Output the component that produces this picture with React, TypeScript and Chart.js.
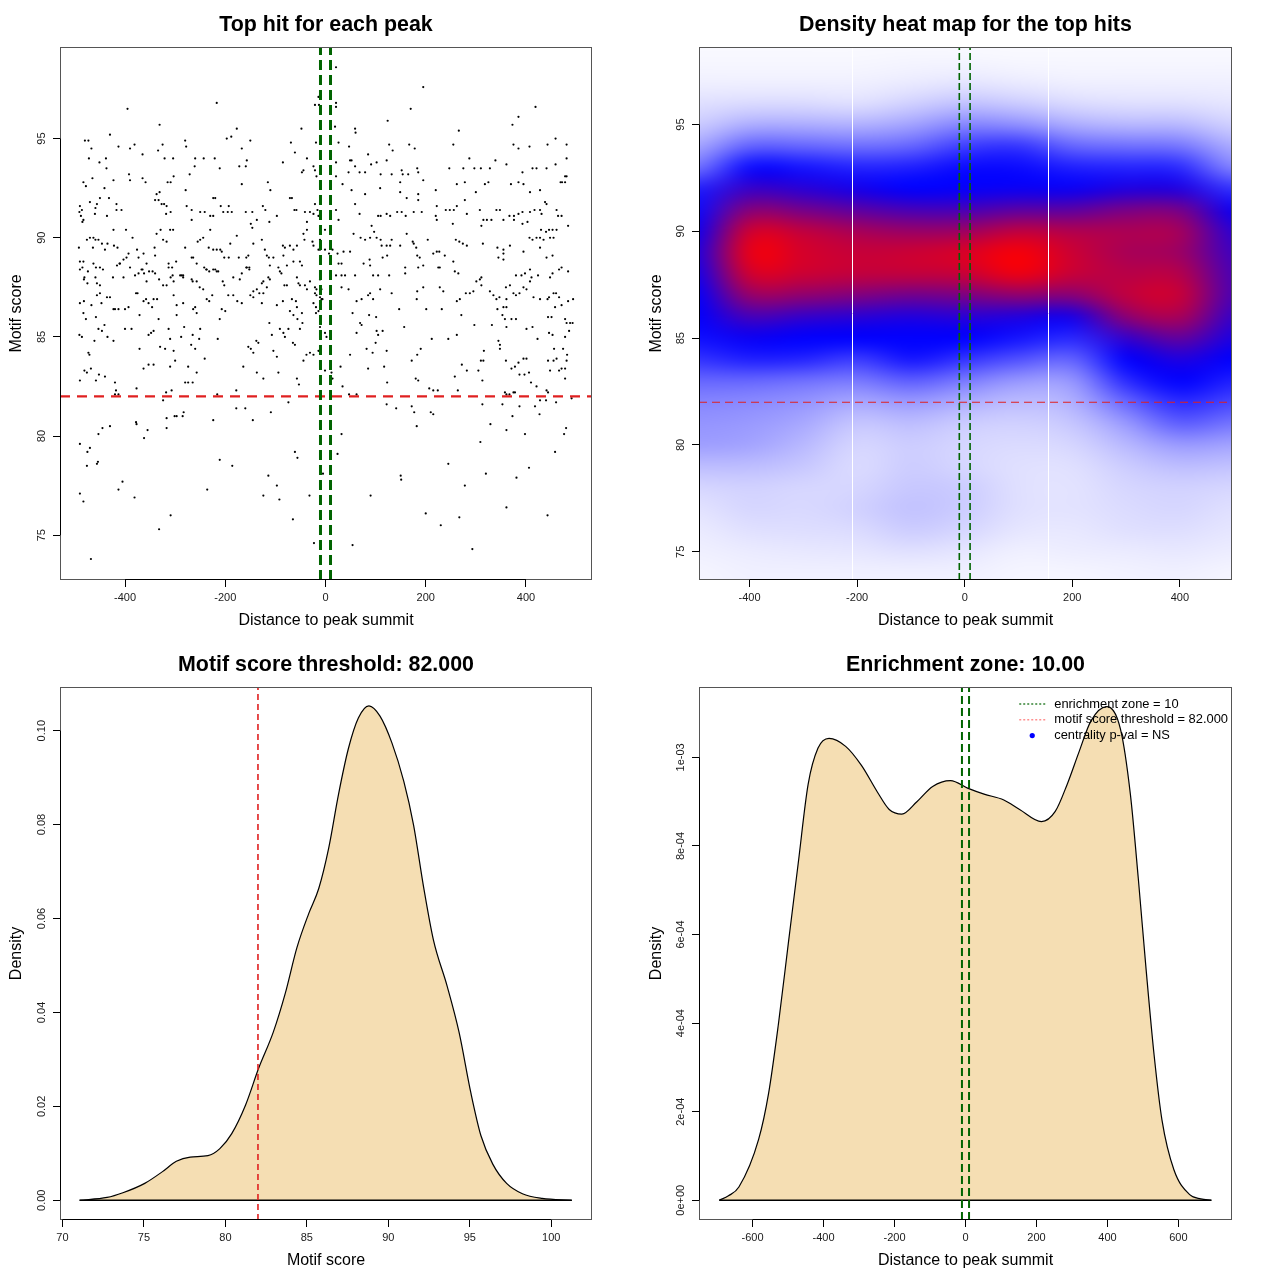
import React, { useEffect, useRef } from "react";
import { Chart, registerables } from "chart.js";

Chart.register(...registerables);

const FONT = '"Liberation Sans", Arial, Helvetica, sans-serif';
Chart.defaults.font.family = FONT;

// ---------------- constants ----------------
const ENRICHMENT_ZONE = 10;
const SCORE_THRESHOLD = 82;

// ---------------- tick arrays ----------------
const distTicks = [-400, -200, 0, 200, 400];
const distTickLabels = ["-400", "-200", "0", "200", "400"];
const scoreTicks = [75, 80, 85, 90, 95];
const scoreTickLabels = ["75", "80", "85", "90", "95"];
const densScoreXTicks = [70, 75, 80, 85, 90, 95, 100];
const densScoreXTickLabels = ["70", "75", "80", "85", "90", "95", "100"];
const densScoreYTicks = [0, 0.02, 0.04, 0.06, 0.08, 0.1];
const densScoreYTickLabels = ["0.00", "0.02", "0.04", "0.06", "0.08", "0.10"];
const densDistXTicks = [-600, -400, -200, 0, 200, 400, 600];
const densDistXTickLabels = ["-600", "-400", "-200", "0", "200", "400", "600"];
const densDistYTicks = [0, 0.0002, 0.0004, 0.0006, 0.0008, 0.001];
const densDistYTickLabels = ["0e+00", "2e-04", "4e-04", "6e-04", "8e-04", "1e-03"];

// ---------------- axis ranges ----------------
const hitsXRange = [-529.7, 531.7];
const hitsYRange = [72.74, 99.62];
const heatXRange = [-494, 497];
const heatYRange = [73.68, 98.63];
const densScoreXRange = [69.85, 102.5];
const densScoreYRange = [-0.0042, 0.1093];
const densDistXRange = [-751, 751];
const densDistYRange = [-0.0000446, 0.001159];

// ---------------- top hits (distance, motif score) ----------------
const topHits: [number, number][] = [
  [-395,96.5],[-217,96.8],[-21,96.7],[-13,96.7],[-14,97.1],
  [-331,95.7],[-430,95.2],[-480,94.9],[-473,94.9],[-467,94.5],[-413,94.6],[-390,94.5],[-381,94.7],[-365,94.2],[-334,94.4],[-325,94.7],[-280,94.9],[-278,94.6],[-197,95.0],[-188,95.1],[-177,95.5],[-150,94.9],[-167,94.5],[-69,94.8],[-61,94.3],[-48,95.5],[-19,94.8],
  [-472,94.0],[-451,93.8],[-438,94.0],[-437,93.5],[-392,93.2],[-390,92.9],[-423,92.9],[-483,92.8],[-478,92.6],[-465,93.0],[-441,92.5],[-365,93.0],[-359,92.8],[-331,92.3],[-321,94.0],[-304,94.0],[-315,92.8],[-309,92.8],[-303,93.1],[-279,92.4],[-271,93.2],[-261,93.6],[-260,94.0],[-243,94.0],[-221,94.0],[-211,93.5],[-172,93.6],[-159,93.6],[-157,93.9],[-167,92.7],[-115,92.8],[-110,92.4],[-85,93.8],[-47,93.3],[-44,93.4],[-37,94.0],[-24,93.6],[-21,93.4],[-18,93.1],
  [-490,91.6],[-486,91.4],[-488,91.1],[-491,91.3],[-483,90.9],[-485,90.8],[-470,91.8],[-456,91.7],[-459,91.5],[-460,91.2],[-450,92.0],[-436,91.1],[-432,92.0],[-417,91.7],[-417,91.4],[-407,91.4],[-337,92.2],[-333,91.9],[-340,91.9],[-327,91.7],[-322,91.7],[-317,91.6],[-318,91.2],[-309,91.3],[-277,91.6],[-267,91.4],[-267,90.9],[-250,91.3],[-241,91.3],[-224,92.0],[-220,92.0],[-230,91.1],[-224,91.1],[-209,91.6],[-204,91.3],[-195,91.3],[-187,91.3],[-193,91.6],[-159,91.3],[-146,91.3],[-125,91.6],[-120,91.4],[-137,90.9],[-112,90.8],[-97,91.1],[-71,92.0],[-67,92.0],[-62,91.4],[-58,91.4],[-41,91.3],[-37,90.8],[-31,91.3],[-21,91.7],[-14,91.1],
  [-492,89.5],[-490,88.8],[-483,88.8],[-476,89.9],[-470,90.0],[-463,90.0],[-464,89.5],[-459,89.9],[-453,89.9],[-446,89.7],[-435,89.7],[-440,89.4],[-422,89.6],[-415,89.5],[-423,90.4],[-410,88.7],[-403,88.9],[-397,89.0],[-393,89.2],[-398,90.4],[-385,90.0],[-376,89.4],[-373,89.0],[-363,89.2],[-365,88.4],[-357,88.7],[-352,88.3],[-345,88.3],[-340,88.2],[-341,89.5],[-340,89.1],[-337,90.2],[-329,90.4],[-324,89.9],[-317,89.8],[-310,90.4],[-304,90.4],[-313,88.7],[-313,88.5],[-306,88.5],[-298,88.8],[-287,88.1],[-284,88.1],[-280,89.5],[-267,89.0],[-264,89.0],[-257,88.7],[-255,89.8],[-250,89.9],[-244,90.0],[-242,88.5],[-238,88.4],[-233,89.5],[-230,90.4],[-224,89.4],[-217,89.4],[-224,88.4],[-214,88.3],[-210,89.4],[-207,89.3],[-202,89.0],[-193,89.0],[-190,89.7],[-177,90.1],[-173,89.0],[-158,89.0],[-154,89.1],[-152,88.5],[-157,88.5],[-149,90.7],[-146,90.5],[-144,89.7],[-127,89.9],[-121,89.4],[-117,89.1],[-113,89.0],[-111,88.6],[-104,89.0],[-94,88.5],[-85,89.6],[-81,89.5],[-84,89.1],[-77,88.6],[-71,89.6],[-64,89.4],[-57,89.6],[-51,88.8],[-44,90.2],[-42,89.9],[-37,90.4],[-26,89.8],[-24,89.6],[-14,89.4],[-11,89.4],[-11,89.9],[-1,90.4],
  [-490,88.4],[-481,88.0],[-482,87.9],[-485,88.5],[-475,87.7],[-474,88.3],[-463,88.7],[-458,88.5],[-459,88.0],[-450,88.5],[-456,87.7],[-450,87.6],[-444,88.4],[-424,88.0],[-416,88.6],[-411,88.7],[-403,88.0],[-390,88.5],[-380,88.1],[-373,88.2],[-367,88.4],[-362,88.2],[-357,87.8],[-332,87.9],[-324,87.6],[-317,87.6],[-309,88.0],[-305,88.1],[-290,88.1],[-284,88.0],[-303,87.8],[-267,87.9],[-265,87.8],[-257,87.8],[-251,87.5],[-244,87.4],[-237,88.4],[-232,88.3],[-220,88.4],[-217,88.3],[-205,87.8],[-202,87.6],[-184,88.0],[-171,87.9],[-167,88.2],[-158,88.5],[-152,88.4],[-144,87.3],[-137,87.4],[-124,87.8],[-127,87.7],[-117,87.5],[-114,88.0],[-111,87.9],[-91,88.3],[-88,88.2],[-82,87.6],[-77,87.6],[-64,88.8],[-57,88.0],[-54,87.7],[-51,87.6],[-47,88.6],[-41,87.6],[-37,87.4],[-31,87.8],[-21,87.2],[-18,87.1],[-8,86.9],[-6,86.9],
  [-490,86.7],[-482,86.8],[-478,85.9],[-467,86.6],[-456,87.1],[-450,87.2],[-436,87.0],[-430,87.0],[-447,86.7],[-423,86.4],[-420,86.4],[-413,86.4],[-400,86.4],[-393,86.5],[-378,87.2],[-375,87.2],[-363,86.8],[-358,86.9],[-353,86.7],[-346,86.5],[-343,86.9],[-336,86.9],[-303,87.1],[-297,86.6],[-284,86.7],[-264,86.4],[-260,86.5],[-237,86.9],[-232,86.8],[-226,87.1],[-207,86.4],[-200,86.3],[-194,87.1],[-184,87.1],[-176,86.8],[-167,86.7],[-150,87.1],[-144,87.0],[-132,87.2],[-124,87.2],[-127,86.7],[-97,86.6],[-85,86.8],[-71,86.3],[-67,86.9],[-59,86.8],[-64,86.1],[-56,85.9],[-57,86.5],[-47,86.2],[-24,86.7],[-19,86.5],[-14,86.3],[-11,87.0],
  [-483,86.2],[-458,86.0],[-453,85.4],[-446,85.3],[-441,85.6],[-435,85.0],[-491,85.1],[-486,85.0],[-461,84.8],[-423,84.8],[-400,85.4],[-387,85.4],[-371,86.1],[-371,84.4],[-353,85.1],[-348,85.2],[-343,85.3],[-333,85.9],[-330,84.5],[-320,84.4],[-313,85.4],[-310,84.9],[-303,84.3],[-297,86.1],[-288,85.0],[-282,85.5],[-265,85.1],[-268,84.6],[-260,84.4],[-257,86.2],[-250,85.4],[-252,84.9],[-241,83.9],[-215,84.9],[-211,85.9],[-164,83.5],[-154,84.5],[-149,84.4],[-144,84.2],[-138,84.8],[-134,84.7],[-112,85.7],[-107,85.1],[-104,84.3],[-97,84.0],[-91,85.4],[-84,85.2],[-81,85.0],[-74,85.4],[-65,84.7],[-61,84.6],[-51,85.4],[-46,85.7],[-44,83.8],[-38,84.1],[-31,84.2],[-19,86.2],[-11,85.5],[-14,84.3],
  [-490,82.8],[-481,83.3],[-476,83.2],[-473,84.2],[-471,84.1],[-468,83.4],[-458,82.8],[-452,83.1],[-440,83.0],[-420,82.7],[-418,82.3],[-420,82.1],[-413,82.1],[-377,82.4],[-363,83.4],[-353,83.6],[-343,83.6],[-324,81.8],[-318,82.2],[-310,83.5],[-307,82.3],[-300,83.8],[-280,82.7],[-274,82.7],[-274,83.5],[-265,82.7],[-257,83.2],[-216,82.1],[-178,82.3],[-137,83.2],[-124,82.9],[-94,83.2],[-74,81.7],[-57,82.9],[-53,82.6],[-24,84.1],[-1,83.3],
  [-317,80.9],[-317,80.4],[-301,81.0],[-297,81.0],[-285,81.0],[-283,81.2],[-224,80.8],[-178,81.4],[-160,81.4],[-145,80.8],[-109,81.2],[-378,80.7],[-377,80.6],[-355,80.3],[-362,79.9],[-445,80.4],[-453,80.1],[-430,80.5],[-490,79.6],[-470,79.4],[-475,79.2],[-454,78.7],[-456,78.6],[-476,78.5],[-211,78.8],[-186,78.5],[-61,79.2],[-56,78.9],[-5,78.1],
  [-114,78.0],[-97,77.5],[-92,76.8],[-124,77.0],[-32,77.0],[-65,75.8],[-23,74.6],[-413,77.3],[-405,77.7],[-490,77.1],[-483,76.7],[-381,76.9],[-309,76.0],[-332,75.3],[-236,77.3],[-468,73.8],
  [21,98.6],[195,97.6],[170,96.5],[419,96.6],[385,96.1],[21,96.8],[21,96.6],[124,95.9],[266,95.4],[373,95.7],[59,95.5],[60,95.3],[19,95.6],
  [26,94.8],[47,94.6],[127,94.7],[134,94.4],[167,94.7],[178,94.5],[255,94.7],[375,94.7],[385,94.5],[407,94.6],[443,94.7],[459,95.0],[481,94.7],[49,93.9],[52,93.9],[85,94.2],[91,93.7],[102,93.8],[122,93.9],[59,93.6],[46,93.3],[79,93.3],[68,93.3],[110,93.2],[132,93.2],[152,93.4],[154,93.2],[165,93.2],[183,93.5],[185,93.3],[195,92.9],[247,93.5],[275,93.5],[287,94.0],[297,93.5],[310,93.5],[328,93.5],[339,93.9],[361,93.7],[393,93.3],[413,93.5],[421,93.5],[441,93.5],[459,93.7],[481,94.0],[481,93.1],[472,92.8],
  [21,93.8],[21,93.1],[34,92.7],[52,92.4],[79,92.2],[109,92.5],[149,92.8],[149,92.3],[162,92.0],[185,91.9],[185,92.2],[220,92.4],[262,92.7],[278,92.8],[278,91.9],[300,92.3],[318,92.7],[325,92.8],[370,92.7],[385,92.8],[395,92.7],[408,92.3],[428,92.4],[469,92.8],[478,92.8],[478,93.1],
  [-24,91.2],[-16,91.4],[21,91.4],[26,90.9],[59,91.7],[68,91.2],[92,90.6],[105,91.1],[110,91.1],[122,91.2],[129,91.1],[143,91.3],[152,91.3],[160,91.1],[176,91.3],[192,91.3],[222,91.6],[220,91.1],[222,90.9],[240,91.4],[248,91.4],[256,91.4],[262,91.6],[254,90.7],[282,91.2],[308,91.4],[311,90.6],[315,90.9],[322,90.9],[331,90.9],[341,91.4],[348,91.4],[355,90.9],[367,91.1],[376,91.1],[385,91.2],[393,91.3],[376,90.9],[393,90.7],[403,90.8],[408,91.3],[417,91.4],[428,91.4],[431,91.2],[438,91.8],[441,91.7],[461,91.4],[464,91.1],[471,91.1],[484,90.6],[430,90.4],[440,90.3],[446,90.4],[453,90.4],[461,90.4],
  [-1,89.4],[7,89.2],[14,89.4],[24,89.2],[36,89.3],[49,89.3],[56,90.2],[70,90.0],[79,89.9],[89,90.0],[97,90.3],[102,90.0],[110,89.9],[112,89.6],[122,89.6],[129,89.6],[132,89.9],[149,89.6],[174,89.8],[176,89.7],[181,89.5],[162,90.2],[204,89.9],[215,89.2],[222,89.3],[227,89.3],[238,89.1],[260,89.9],[267,89.8],[274,89.7],[282,89.6],[314,89.7],[343,89.5],[355,89.4],[368,89.6],[395,89.3],[407,90.0],[413,89.9],[421,90.0],[428,90.0],[435,89.9],[448,90.0],[455,90.0],[428,89.5],[441,89.0],[453,89.1],[466,88.4],[471,88.5],[484,88.3],
  [26,88.7],[32,88.7],[21,88.1],[32,88.1],[39,88.1],[59,88.1],[76,88.7],[88,88.9],[89,88.6],[95,88.1],[105,88.1],[114,89.0],[123,89.1],[127,88.1],[159,88.5],[159,88.2],[183,89.1],[188,89.0],[185,88.5],[195,88.6],[225,88.5],[228,88.5],[255,88.8],[258,88.3],[265,88.2],[311,88.0],[345,89.0],[355,88.9],[355,89.2],[380,88.1],[391,88.1],[398,88.2],[408,88.4],[411,88.0],[424,88.1],[448,88.0],[453,88.2],[-21,87.5],[-18,87.4],[-11,87.9],[-8,87.4],
  [32,87.5],[46,87.4],[62,86.8],[72,86.9],[85,87.1],[89,87.2],[95,86.9],[109,87.4],[132,87.2],[182,86.9],[183,87.3],[195,87.5],[228,87.5],[235,87.3],[262,86.8],[268,86.9],[280,87.2],[288,87.2],[295,87.3],[301,87.8],[308,87.9],[311,87.6],[328,87.3],[335,87.1],[341,86.9],[347,87.0],[355,86.5],[361,86.5],[361,86.9],[360,87.5],[368,87.6],[375,87.2],[380,87.1],[387,87.2],[395,87.5],[401,87.4],[408,87.8],[415,87.0],[428,86.9],[443,86.9],[446,87.0],[455,87.2],[460,87.2],[466,87.0],[458,86.5],[471,86.6],[484,86.8],[494,86.9],[232,86.4],
  [54,86.2],[87,86.1],[101,86.0],[147,86.4],[201,86.4],[271,86.1],[297,85.6],[332,85.6],[343,86.4],[353,86.1],[358,85.9],[361,85.5],[371,85.9],[380,85.9],[401,85.4],[413,85.5],[423,84.9],[444,86.0],[451,86.0],[446,85.2],[453,85.1],[478,85.9],[481,85.7],[488,85.7],[493,85.7],[486,85.3],[478,85.0],[62,85.2],[69,85.7],[72,85.6],[102,85.3],[105,85.1],[114,85.3],[157,85.5],[100,84.7],[82,84.4],[49,84.1],[30,83.5],[-1,85.2],[2,85.0],[12,83.2],[14,82.9],[34,82.5],[47,82.1],[62,82.1],[85,83.4],[94,84.2],[117,83.5],[122,84.3],[123,82.7],[172,83.8],[183,84.1],[190,84.4],[180,82.9],[185,82.8],[212,84.9],[207,82.4],[215,82.3],[224,82.3],[245,84.9],[262,85.1],[272,83.6],[282,83.3],[258,83.0],[264,82.3],[305,83.3],[310,83.8],[315,83.8],[313,82.8],[316,84.3],[345,84.8],[348,84.6],[348,84.4],[360,83.8],[371,83.4],[378,83.5],[385,83.7],[387,83.1],[397,83.1],[406,83.2],[395,83.9],[401,83.9],[410,82.7],[421,82.5],[358,82.2],[361,82.1],[367,82.1],[375,82.2],[378,82.2],[441,82.3],[444,82.2],[444,83.8],[455,83.8],[461,83.9],[448,83.3],[466,83.3],[471,83.4],[478,83.4],[474,84.4],[481,83.8],[478,82.9],[482,84.1],[456,84.4],
  [122,81.6],[141,81.4],[172,81.5],[177,81.2],[182,80.5],[210,81.2],[215,81.1],[313,81.6],[353,81.6],[373,81.0],[387,81.5],[418,81.5],[428,81.8],[440,81.8],[427,81.1],[460,81.7],[491,81.9],[329,80.6],[361,80.3],[480,80.4],[476,80.1],[398,80.1],[309,79.7],[32,80.1],[458,79.2],[24,79.1],[245,78.6],[406,78.4],[150,78.0],[151,77.8],[320,78.1],[381,77.9],[278,77.5],[90,77.0],[361,76.4],[200,76.1],[267,75.9],[443,76.0],[230,75.5],[54,74.5],[293,74.3],
];

// ---------------- density heat map grid ----------------
// grid columns (distance) and rows (motif score); each column lists the colour level from score 99 down to 74
const heatX = [-500, -400, -300, -200, -100, 0, 100, 200, 300, 400, 500];
const heatY = [99, 98, 97, 96, 95, 94, 93, 92, 91, 90, 89, 88, 87, 86, 85, 84, 83, 82, 81, 80, 79, 78, 77, 76, 75, 74];
const heatLevels: number[][] = [
  [0.01, 0.015, 0.03, 0.06, 0.1, 0.17, 0.27, 0.44, 0.48, 0.52, 0.55, 0.53, 0.5, 0.5, 0.47, 0.4, 0.3, 0.24, 0.21, 0.19, 0.13, 0.08, 0.055, 0.04, 0.03, 0.02],
  [0.01, 0.015, 0.03, 0.07, 0.16, 0.31, 0.48, 0.61, 0.77, 0.92, 0.97, 0.92, 0.8, 0.64, 0.52, 0.44, 0.3, 0.23, 0.2, 0.18, 0.13, 0.09, 0.08, 0.06, 0.04, 0.03],
  [0.01, 0.015, 0.03, 0.07, 0.16, 0.3, 0.46, 0.58, 0.73, 0.88, 0.92, 0.9, 0.78, 0.6, 0.5, 0.43, 0.28, 0.21, 0.17, 0.14, 0.11, 0.08, 0.075, 0.065, 0.045, 0.03],
  [0.01, 0.015, 0.03, 0.06, 0.15, 0.28, 0.43, 0.54, 0.68, 0.83, 0.89, 0.88, 0.75, 0.58, 0.5, 0.38, 0.26, 0.17, 0.11, 0.08, 0.07, 0.08, 0.09, 0.07, 0.05, 0.03],
  [0.01, 0.02, 0.04, 0.09, 0.18, 0.3, 0.44, 0.5, 0.64, 0.8, 0.9, 0.88, 0.72, 0.56, 0.5, 0.46, 0.32, 0.2, 0.13, 0.1, 0.1, 0.11, 0.12, 0.1, 0.06, 0.03],
  [0.01, 0.02, 0.05, 0.12, 0.24, 0.38, 0.48, 0.51, 0.64, 0.81, 0.93, 0.89, 0.74, 0.58, 0.5, 0.4, 0.26, 0.16, 0.1, 0.08, 0.08, 0.1, 0.1, 0.08, 0.05, 0.03],
  [0.01, 0.015, 0.04, 0.1, 0.22, 0.4, 0.48, 0.52, 0.68, 0.88, 0.99, 0.97, 0.78, 0.56, 0.46, 0.34, 0.2, 0.13, 0.09, 0.07, 0.06, 0.06, 0.06, 0.05, 0.03, 0.02],
  [0.01, 0.015, 0.03, 0.07, 0.16, 0.3, 0.44, 0.52, 0.68, 0.85, 0.9, 0.89, 0.76, 0.54, 0.42, 0.3, 0.2, 0.15, 0.11, 0.08, 0.06, 0.055, 0.055, 0.045, 0.035, 0.02],
  [0.01, 0.015, 0.03, 0.06, 0.14, 0.28, 0.43, 0.56, 0.74, 0.84, 0.83, 0.86, 0.88, 0.78, 0.6, 0.5, 0.42, 0.3, 0.2, 0.14, 0.1, 0.08, 0.07, 0.06, 0.04, 0.025],
  [0.01, 0.015, 0.03, 0.06, 0.14, 0.27, 0.42, 0.56, 0.74, 0.83, 0.81, 0.86, 0.9, 0.84, 0.7, 0.56, 0.5, 0.42, 0.32, 0.2, 0.13, 0.09, 0.08, 0.065, 0.045, 0.03],
  [0.01, 0.015, 0.03, 0.05, 0.09, 0.16, 0.24, 0.4, 0.52, 0.58, 0.62, 0.64, 0.64, 0.6, 0.55, 0.5, 0.44, 0.36, 0.27, 0.18, 0.12, 0.08, 0.06, 0.05, 0.035, 0.02],
];
const heatSeams = [-210, 155];

// ---------------- motif score density ----------------
const scoreDensX = [71.05, 72.74, 73.71, 75.05, 76.14, 76.99, 77.84, 78.93, 79.66, 80.39, 81.24, 82.04, 82.94, 83.67, 84.39, 85.12, 85.73, 86.34, 86.94, 87.55, 88.16, 88.81, 89.49, 90.22, 90.95, 91.55, 92.16, 92.77, 93.61, 94.34, 95.07, 95.68, 96.41, 97.26, 98.23, 99.44, 101.26];
const scoreDensY = [0, 0.0006, 0.0016, 0.0036, 0.0061, 0.0083, 0.0092, 0.0095, 0.011, 0.0142, 0.0203, 0.0281, 0.0358, 0.044, 0.0538, 0.0611, 0.0664, 0.075, 0.0864, 0.0962, 0.1027, 0.1053, 0.1031, 0.0974, 0.0892, 0.0799, 0.0668, 0.0554, 0.0456, 0.0358, 0.0228, 0.0138, 0.0077, 0.0036, 0.0014, 0.0004, 0];

// ---------------- distance density ----------------
const distDensX = [-694, -668, -638.6, -582.8, -554.8, -527.2, -499.3, -471.4, -443.5, -415.6, -384.5, -337.7, -293.2, -248.4, -215, -179.3, -137, -92.5, -42.3, 7.6, 52.4, 108, 152.5, 214, 252.9, 286.4, 319.7, 353.3, 397.8, 436.7, 464.6, 486.9, 509.2, 531.4, 553.7, 587.3, 631.8, 663, 693];
const distDensY = [0, 0.00001, 0.00003, 0.000138, 0.000242, 0.000398, 0.00058, 0.000761, 0.000939, 0.001021, 0.001043, 0.001025, 0.000982, 0.000922, 0.0008825, 0.000872, 0.0009, 0.0009345, 0.0009476, 0.00093, 0.000917, 0.000904, 0.0008825, 0.000855, 0.000878, 0.000939, 0.001012, 0.001082, 0.0011146, 0.001064, 0.000917, 0.000727, 0.000519, 0.0003285, 0.000181, 0.000069, 0.0000127, 0.000003, 0];

const legendLabels = [
  `enrichment zone = ${ENRICHMENT_ZONE}`,
  `motif score threshold = ${SCORE_THRESHOLD.toFixed(3)}`,
  "centrality p-val = NS",
];

// ---------------- helpers ----------------
function ramp(t: number): [number, number, number] {
  const v = Math.max(0, Math.min(1, t));
  if (v <= 0.5) {
    const k = v / 0.5;
    return [255 * (1 - k), 255 * (1 - k), 255];
  }
  const k = (v - 0.5) / 0.5;
  return [255 * k, 0, 255 * (1 - k)];
}

function axis(range: number[], ticks: number[], labels: string[], isX: boolean, size: number) {
  return {
    type: "linear",
    min: range[0],
    max: range[1],
    afterBuildTicks: (s: any) => {
      s.ticks = ticks.map((v) => ({ value: v }));
    },
    afterFit: (s: any) => {
      if (isX) s.height = size;
      else s.width = size;
    },
    grid: { display: true, drawOnChartArea: false, drawTicks: true, tickLength: 7, color: "#000", lineWidth: 1 },
    border: { display: false },
    ticks: isX
      ? {
          display: true,
          autoSkip: false,
          maxRotation: 0,
          minRotation: 0,
          padding: 4,
          color: "#1a1a1a",
          font: { size: 11, family: FONT },
          callback: (v: number) => {
            const i = ticks.indexOf(v);
            return i >= 0 ? labels[i] : "";
          },
        }
      : { display: false },
  };
}

function vline(x: number, yr: number[], color: string, width: number, dash: number[]) {
  return {
    type: "line",
    data: [{ x, y: yr[0] }, { x, y: yr[1] }],
    borderColor: color,
    borderWidth: width,
    borderDash: dash,
    pointRadius: 0,
    pointHoverRadius: 0,
    fill: false,
    order: 0,
  };
}

function hline(y: number, xr: number[], color: string, width: number, dash: number[]) {
  return {
    type: "line",
    data: [{ x: xr[0], y }, { x: xr[1], y }],
    borderColor: color,
    borderWidth: width,
    borderDash: dash,
    pointRadius: 0,
    pointHoverRadius: 0,
    fill: false,
    order: 0,
  };
}

type FrameSpec = {
  title: string;
  xTitle: string;
  yTitle: string;
  xTicks: number[];
  yTicks: number[];
  yTickLabels: string[];
};

function framePlugin(o: FrameSpec) {
  return {
    id: "rframe",
    afterDraw(chart: any) {
      const { ctx, chartArea: a } = chart;
      const xs = chart.scales.x;
      const ys = chart.scales.y;
      ctx.save();
      ctx.strokeStyle = "#555";
      ctx.lineWidth = 1;
      ctx.strokeRect(a.left + 0.5, a.top + 0.5, a.right - a.left - 1, a.bottom - a.top - 1);
      ctx.strokeStyle = "#000";
      ctx.beginPath();
      ctx.moveTo(xs.getPixelForValue(o.xTicks[0]), a.bottom - 0.5);
      ctx.lineTo(xs.getPixelForValue(o.xTicks[o.xTicks.length - 1]), a.bottom - 0.5);
      ctx.moveTo(a.left + 0.5, ys.getPixelForValue(o.yTicks[0]));
      ctx.lineTo(a.left + 0.5, ys.getPixelForValue(o.yTicks[o.yTicks.length - 1]));
      ctx.stroke();

      ctx.fillStyle = "#1a1a1a";
      ctx.font = `11px ${FONT}`;
      ctx.textAlign = "center";
      ctx.textBaseline = "middle";
      o.yTicks.forEach((v, i) => {
        const py = ys.getPixelForValue(v);
        ctx.save();
        ctx.translate(a.left - 18, py);
        ctx.rotate(-Math.PI / 2);
        ctx.fillText(o.yTickLabels[i], 0, 0);
        ctx.restore();
      });

      const cx = (a.left + a.right) / 2;
      ctx.fillStyle = "#000";
      ctx.font = `bold 21.4px ${FONT}`;
      ctx.fillText(o.title, cx, 25);
      ctx.font = `16px ${FONT}`;
      ctx.fillText(o.xTitle, cx, 620.5);
      ctx.save();
      ctx.translate(17, (a.top + a.bottom) / 2);
      ctx.rotate(-Math.PI / 2);
      ctx.fillText(o.yTitle, 0, 0);
      ctx.restore();
      ctx.restore();
    },
  };
}

const heatPlugin = {
  id: "heat",
  beforeDatasetsDraw(chart: any) {
    const { ctx, chartArea: a } = chart;
    const xs = chart.scales.x;
    const ys = chart.scales.y;
    const nc = heatX.length;
    const nr = heatY.length;
    const off = document.createElement("canvas");
    off.width = nc;
    off.height = nr;
    const octx = off.getContext("2d")!;
    const img = octx.createImageData(nc, nr);
    for (let r = 0; r < nr; r++) {
      for (let c = 0; c < nc; c++) {
        const [R, G, B] = ramp(heatLevels[c][r]);
        const i = (r * nc + c) * 4;
        img.data[i] = R;
        img.data[i + 1] = G;
        img.data[i + 2] = B;
        img.data[i + 3] = 255;
      }
    }
    octx.putImageData(img, 0, 0);
    const x0 = xs.getPixelForValue(heatX[0]);
    const x1 = xs.getPixelForValue(heatX[nc - 1]);
    const cw = (x1 - x0) / (nc - 1);
    const y0 = ys.getPixelForValue(heatY[0]);
    const y1 = ys.getPixelForValue(heatY[nr - 1]);
    const ch = (y1 - y0) / (nr - 1);
    ctx.save();
    ctx.beginPath();
    ctx.rect(a.left, a.top, a.right - a.left, a.bottom - a.top);
    ctx.clip();
    ctx.imageSmoothingEnabled = true;
    (ctx as any).imageSmoothingQuality = "high";
    ctx.drawImage(off, x0 - cw / 2, y0 - ch / 2, cw * nc, ch * nr);
    ctx.strokeStyle = "#ffffff";
    ctx.lineWidth = 1;
    heatSeams.forEach((v) => {
      const px = Math.round(xs.getPixelForValue(v)) + 0.5;
      ctx.beginPath();
      ctx.moveTo(px, a.top);
      ctx.lineTo(px, a.bottom);
      ctx.stroke();
    });
    ctx.restore();
  },
};

const legendPlugin = {
  id: "rlegend",
  afterDraw(chart: any) {
    const { ctx, chartArea: a } = chart;
    ctx.save();
    ctx.font = `12.9px ${FONT}`;
    const w = Math.max(...legendLabels.map((t) => ctx.measureText(t).width));
    const tx = a.right - w - 4;
    legendLabels.forEach((t, i) => {
      const yy = a.top + 17 + i * 15.8;
      if (i < 2) {
        ctx.strokeStyle = i === 0 ? "#006400" : "rgba(255,0,0,0.55)";
        ctx.lineWidth = 1.2;
        ctx.setLineDash([2, 2]);
        ctx.beginPath();
        ctx.moveTo(tx - 35, yy);
        ctx.lineTo(tx - 9, yy);
        ctx.stroke();
        ctx.setLineDash([]);
      } else {
        ctx.fillStyle = "#0000ff";
        ctx.beginPath();
        ctx.arc(tx - 22, yy, 2.6, 0, Math.PI * 2);
        ctx.fill();
      }
      ctx.fillStyle = "#000";
      ctx.textAlign = "left";
      ctx.textBaseline = "middle";
      ctx.fillText(t, tx, yy);
    });
    ctx.restore();
  },
};

function baseOptions(xr: number[], yr: number[], xt: number[], xl: string[], yt: number[], yl: string[], yWidth: number) {
  return {
    responsive: false,
    animation: false,
    events: [],
    layout: { padding: { top: 47, right: 48, left: 0, bottom: 0 } },
    plugins: { legend: { display: false }, tooltip: { enabled: false }, title: { display: false } },
    scales: {
      x: axis(xr, xt, xl, true, 60),
      y: axis(yr, yt, yl, false, yWidth),
    },
  };
}

// ---------------- panel configs ----------------
function topHitsConfig() {
  return {
    type: "scatter",
    data: {
      datasets: [
        vline(-ENRICHMENT_ZONE, hitsYRange, "#006400", 3, [10, 5]),
        vline(ENRICHMENT_ZONE, hitsYRange, "#006400", 3, [10, 5]),
        hline(SCORE_THRESHOLD, hitsXRange, "#e02020", 2.4, [10, 7]),
        {
          type: "scatter",
          data: topHits.map(([x, y]) => ({ x, y })),
          pointRadius: 1.1,
          pointHoverRadius: 0,
          backgroundColor: "#000",
          borderWidth: 0,
          order: 2,
        },
      ],
    },
    options: baseOptions(hitsXRange, hitsYRange, distTicks, distTickLabels, scoreTicks, scoreTickLabels, 60),
    plugins: [
      framePlugin({ title: "Top hit for each peak", xTitle: "Distance to peak summit", yTitle: "Motif score", xTicks: distTicks, yTicks: scoreTicks, yTickLabels: scoreTickLabels }),
    ],
  };
}

function heatConfig() {
  return {
    type: "scatter",
    data: {
      datasets: [
        vline(-ENRICHMENT_ZONE, heatYRange, "#006400", 1.6, [7, 3]),
        vline(ENRICHMENT_ZONE, heatYRange, "#006400", 1.6, [7, 3]),
        hline(SCORE_THRESHOLD, heatXRange, "#e02020", 1.2, [8, 5]),
      ],
    },
    options: baseOptions(heatXRange, heatYRange, distTicks, distTickLabels, scoreTicks, scoreTickLabels, 59),
    plugins: [
      heatPlugin,
      framePlugin({ title: "Density heat map for the top hits", xTitle: "Distance to peak summit", yTitle: "Motif score", xTicks: distTicks, yTicks: scoreTicks, yTickLabels: scoreTickLabels }),
    ],
  };
}

function scoreDensityConfig() {
  return {
    type: "line",
    data: {
      datasets: [
        vline(SCORE_THRESHOLD, densScoreYRange, "#e02020", 1.6, [6, 4]),
        {
          type: "line",
          data: scoreDensX.map((x, i) => ({ x, y: scoreDensY[i] })),
          borderColor: "#000",
          borderWidth: 1.2,
          backgroundColor: "#F5DEB3",
          fill: "origin",
          cubicInterpolationMode: "monotone",
          pointRadius: 0,
          pointHoverRadius: 0,
          order: 2,
        },
        {
          type: "line",
          data: [
            { x: scoreDensX[0], y: 0 },
            { x: scoreDensX[scoreDensX.length - 1], y: 0 },
          ],
          borderColor: "#000",
          borderWidth: 1.5,
          pointRadius: 0,
          fill: false,
          order: 1,
        },
      ],
    },
    options: baseOptions(densScoreXRange, densScoreYRange, densScoreXTicks, densScoreXTickLabels, densScoreYTicks, densScoreYTickLabels, 60),
    plugins: [
      framePlugin({ title: `Motif score threshold: ${SCORE_THRESHOLD.toFixed(3)}`, xTitle: "Motif score", yTitle: "Density", xTicks: densScoreXTicks, yTicks: densScoreYTicks, yTickLabels: densScoreYTickLabels }),
    ],
  };
}

function distDensityConfig() {
  return {
    type: "line",
    data: {
      datasets: [
        vline(-ENRICHMENT_ZONE, densDistYRange, "#006400", 2, [8, 4]),
        vline(ENRICHMENT_ZONE, densDistYRange, "#006400", 2, [8, 4]),
        {
          type: "line",
          data: distDensX.map((x, i) => ({ x, y: distDensY[i] })),
          borderColor: "#000",
          borderWidth: 1.2,
          backgroundColor: "#F5DEB3",
          fill: "origin",
          cubicInterpolationMode: "monotone",
          pointRadius: 0,
          pointHoverRadius: 0,
          order: 2,
        },
        {
          type: "line",
          data: [
            { x: distDensX[0], y: 0 },
            { x: distDensX[distDensX.length - 1], y: 0 },
          ],
          borderColor: "#000",
          borderWidth: 1.5,
          pointRadius: 0,
          fill: false,
          order: 1,
        },
      ],
    },
    options: baseOptions(densDistXRange, densDistYRange, densDistXTicks, densDistXTickLabels, densDistYTicks, densDistYTickLabels, 59),
    plugins: [
      framePlugin({ title: `Enrichment zone: ${ENRICHMENT_ZONE.toFixed(2)}`, xTitle: "Distance to peak summit", yTitle: "Density", xTicks: densDistXTicks, yTicks: densDistYTicks, yTickLabels: densDistYTickLabels }),
      legendPlugin,
    ],
  };
}

function Panel({ left, top, build }: { left: number; top: number; build: () => any }) {
  const ref = useRef<HTMLCanvasElement>(null);
  useEffect(() => {
    const chart = new Chart(ref.current as HTMLCanvasElement, build());
    return () => chart.destroy();
  }, []);
  return (
    <canvas
      ref={ref}
      width={640}
      height={640}
      style={{ position: "absolute", left, top, width: 640, height: 640, display: "block" }}
    />
  );
}

export default function App() {
  return (
    <div style={{ position: "absolute", left: 0, top: 0, width: 1280, height: 1280, background: "#fff" }}>
      <Panel left={0} top={0} build={topHitsConfig} />
      <Panel left={640} top={0} build={heatConfig} />
      <Panel left={0} top={640} build={scoreDensityConfig} />
      <Panel left={640} top={640} build={distDensityConfig} />
    </div>
  );
}
